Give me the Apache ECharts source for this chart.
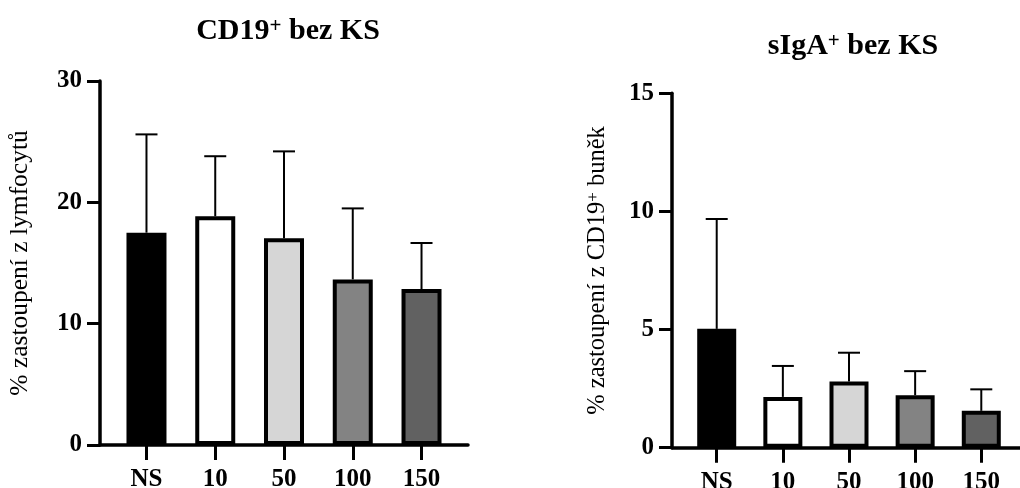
<!DOCTYPE html>
<html>
<head>
<meta charset="utf-8">
<title>CD19+ / sIgA+ bez KS</title>
<script src="https://cdn.jsdelivr.net/npm/echarts@6.0.0/dist/echarts.min.js"></script>
<style>
  html, body { margin: 0; padding: 0; background: #fff; }
  #chart { width: 1020px; height: 488px; }
</style>
</head>
<body>
<div id="chart"></div>
<script>
// data
var categories = ['NS', '10', '50', '100', '150'];
var cd19Mean = [17.5, 18.85, 17.05, 13.65, 12.85];
var cd19Sd = [8.1, 4.95, 7.15, 5.85, 3.8];
var igaMean = [5.03, 2.15, 2.8, 2.22, 1.56];
var igaSd = [4.65, 1.31, 1.22, 1.02, 0.91];

var serif = '"Liberation Serif", "Times New Roman", serif';
var barFills = ['#000000', '#ffffff', '#d6d6d6', '#838383', '#616161'];
var catIdx = categories.map(function (c, i) { return i; });

function barData(means) {
  return means.map(function (v, i) {
    return { value: [i, v], itemStyle: { color: barFills[i] } };
  });
}

function errData(means, sds) {
  return means.map(function (v, i) { return [i, v, v + sds[i]]; });
}

// 误差线：从柱顶向上画一条竖线加横帽
function renderErr(params, api) {
  var base = api.coord([api.value(0), api.value(1)]);
  var top = api.coord([api.value(0), api.value(2)]);
  var style = { stroke: '#000', lineWidth: 2 };
  return {
    type: 'group',
    children: [
      { type: 'line', shape: { x1: base[0], y1: base[1], x2: top[0], y2: top[1] }, style: style },
      { type: 'line', shape: { x1: top[0] - 11, y1: top[1], x2: top[0] + 11, y2: top[1] }, style: style }
    ]
  };
}

function xAxisOf(grid, margin) {
  return {
    gridIndex: grid, type: 'value', min: -0.676, max: 4.676,
    axisLine: { show: true, onZero: false, lineStyle: { color: '#000', width: 3.5 } },
    axisTick: { show: true, customValues: catIdx, length: 15, lineStyle: { color: '#000', width: 3 } },
    axisLabel: {
      customValues: catIdx, margin: margin, verticalAlign: 'top',
      color: '#000', fontFamily: serif, fontWeight: 'bold', fontSize: 25,
      formatter: function (v) { return categories[Math.round(v)]; }
    },
    splitLine: { show: false }
  };
}

function yAxisOf(grid, max, interval, name, gap, nameSize) {
  return {
    gridIndex: grid, type: 'value', min: 0, max: max, interval: interval,
    name: name, nameLocation: 'middle', nameGap: gap, nameRotate: 90,
    nameTextStyle: {
      color: '#000', fontFamily: serif, fontSize: nameSize,
      rich: {
        n: { color: '#000', fontFamily: serif, fontSize: nameSize },
        s: { color: '#000', fontFamily: serif, fontSize: 17, verticalAlign: 'top' }
      }
    },
    axisLine: { show: true, onZero: false, lineStyle: { color: '#000', width: 3.5 } },
    axisTick: { show: true, length: 13, lineStyle: { color: '#000', width: 3 } },
    axisLabel: { margin: 18, color: '#000', fontFamily: serif, fontWeight: 'bold', fontSize: 25 },
    splitLine: { show: false }
  };
}

var titleRich = {
  t: { color: '#000', fontFamily: serif, fontWeight: 'bold', fontSize: 30 },
  s: { color: '#000', fontFamily: serif, fontWeight: 'bold', fontSize: 21, verticalAlign: 'top' }
};

var chart = echarts.init(document.getElementById('chart'), null, { renderer: 'canvas' });
chart.setOption({
  backgroundColor: '#fff',
  animation: false,
  title: [
    { text: '{t|CD19}{s|+}{t| bez KS}', left: 283, top: 11, textAlign: 'center', textStyle: { rich: titleRich } },
    { text: '{t|sIgA}{s|+}{t| bez KS}', left: 848, top: 26, textAlign: 'center', textStyle: { rich: titleRich } }
  ],
  grid: [
    { left: 100, top: 81, width: 368, height: 364, outerBoundsMode: 'none' },
    { left: 672, top: 93.3, width: 354, height: 354.4, outerBoundsMode: 'none' }
  ],
  xAxis: [xAxisOf(0, 22), xAxisOf(1, 22)],
  yAxis: [
    yAxisOf(0, 30, 10, '{n|% zastoupení z lymfocytů}', 67, 25.5),
    yAxisOf(1, 15, 5, '{n|% zastoupení z CD19}{s|+}{n| buněk}', 62, 24.5)
  ],
  series: [
    { type: 'custom', xAxisIndex: 0, yAxisIndex: 0, z: 1, renderItem: renderErr, data: errData(cd19Mean, cd19Sd) },
    { type: 'bar', xAxisIndex: 0, yAxisIndex: 0, z: 2, barWidth: 40, data: barData(cd19Mean),
      itemStyle: { borderColor: '#000', borderWidth: 4 } },
    { type: 'custom', xAxisIndex: 1, yAxisIndex: 1, z: 1, renderItem: renderErr, data: errData(igaMean, igaSd) },
    { type: 'bar', xAxisIndex: 1, yAxisIndex: 1, z: 2, barWidth: 39, data: barData(igaMean),
      itemStyle: { borderColor: '#000', borderWidth: 4 } }
  ]
});
</script>
</body>
</html>
